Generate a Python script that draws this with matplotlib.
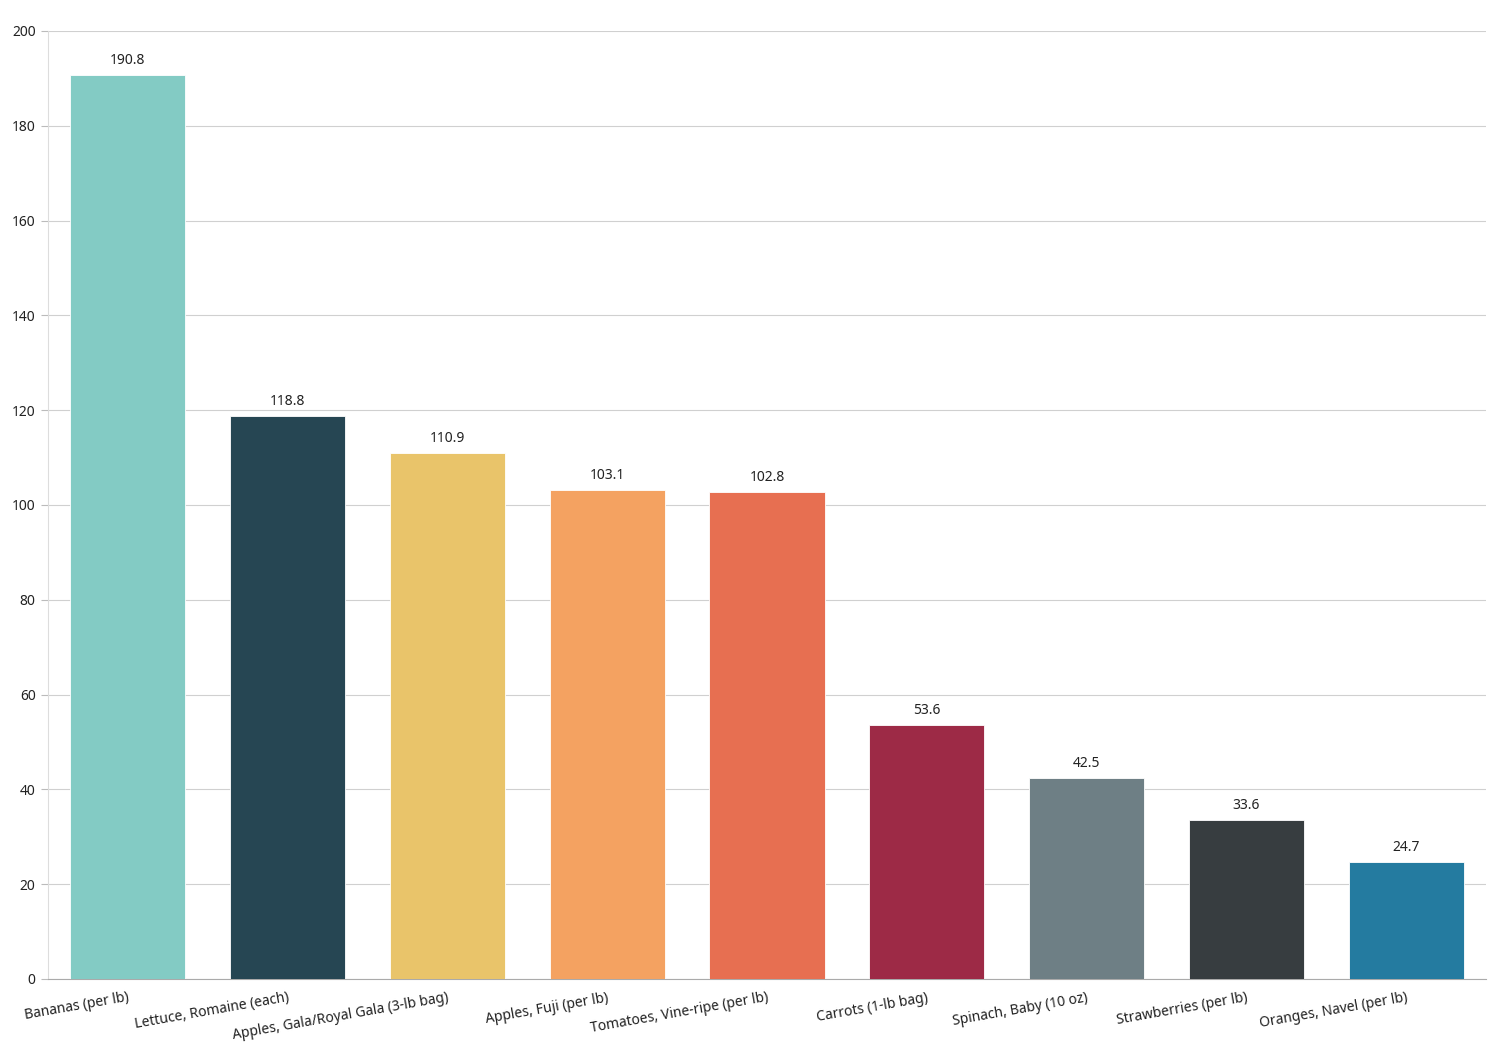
import matplotlib
matplotlib.use("Agg")
import matplotlib.pyplot as plt

# --- data ---
items = [
    "Bananas (per lb)",
    "Lettuce, Romaine (each)",
    "Apples, Gala/Royal Gala (3-lb bag)",
    "Apples, Fuji (per lb)",
    "Tomatoes, Vine-ripe (per lb)",
    "Carrots (1-lb bag)",
    "Spinach, Baby (10 oz)",
    "Strawberries (per lb)",
    "Oranges, Navel (per lb)",
]
values = [190.8, 118.8, 110.9, 103.1, 102.8, 53.6, 42.5, 33.6, 24.7]
colors = ["#83cbc4", "#264653", "#e9c46a", "#f4a261", "#e76f51",
          "#9d2a46", "#6e7f85", "#373d40", "#247ba0"]
y_ticks = [0, 20, 40, 60, 80, 100, 120, 140, 160, 180, 200]

plt.rcParams['font.family'] = ['Noto Sans', 'DejaVu Sans']

fig = plt.figure(figsize=(14.96, 10.53), dpi=100)
ax = fig.add_axes([48 / 1496, 1 - 979 / 1053, (1486 - 48) / 1496, (979 - 31) / 1053])

x = list(range(len(items)))
bars = ax.bar(x, values, width=0.72, color=colors, edgecolor="white",
              linewidth=0.6, zorder=3)

for b, v in zip(bars, values):
    ax.annotate(f"{v:.1f}", (b.get_x() + b.get_width() / 2, v),
                xytext=(0, 5), textcoords="offset points",
                ha="center", va="bottom", fontsize=10, color="#222222")

ax.set_xlim(-0.5, len(items) - 0.5)
ax.set_ylim(0, 200)
ax.set_yticks(y_ticks)
ax.yaxis.grid(True, color="#d0d0d0", linewidth=0.8, zorder=0)
ax.set_axisbelow(True)

ax.set_xticks(x)
ax.set_xticklabels(items, rotation=10, ha="right", rotation_mode="anchor",
                   fontsize=10, color="#222222")
ax.tick_params(axis="x", length=0, pad=8)
ax.tick_params(axis="y", length=5, color="#bbbbbb", labelsize=10,
               labelcolor="#222222", pad=4)

for s in ["top", "right"]:
    ax.spines[s].set_visible(False)
ax.spines["left"].set_color("#dddddd")
ax.spines["bottom"].set_color("#aaaaaa")

fig.savefig("out.png", dpi=100)
